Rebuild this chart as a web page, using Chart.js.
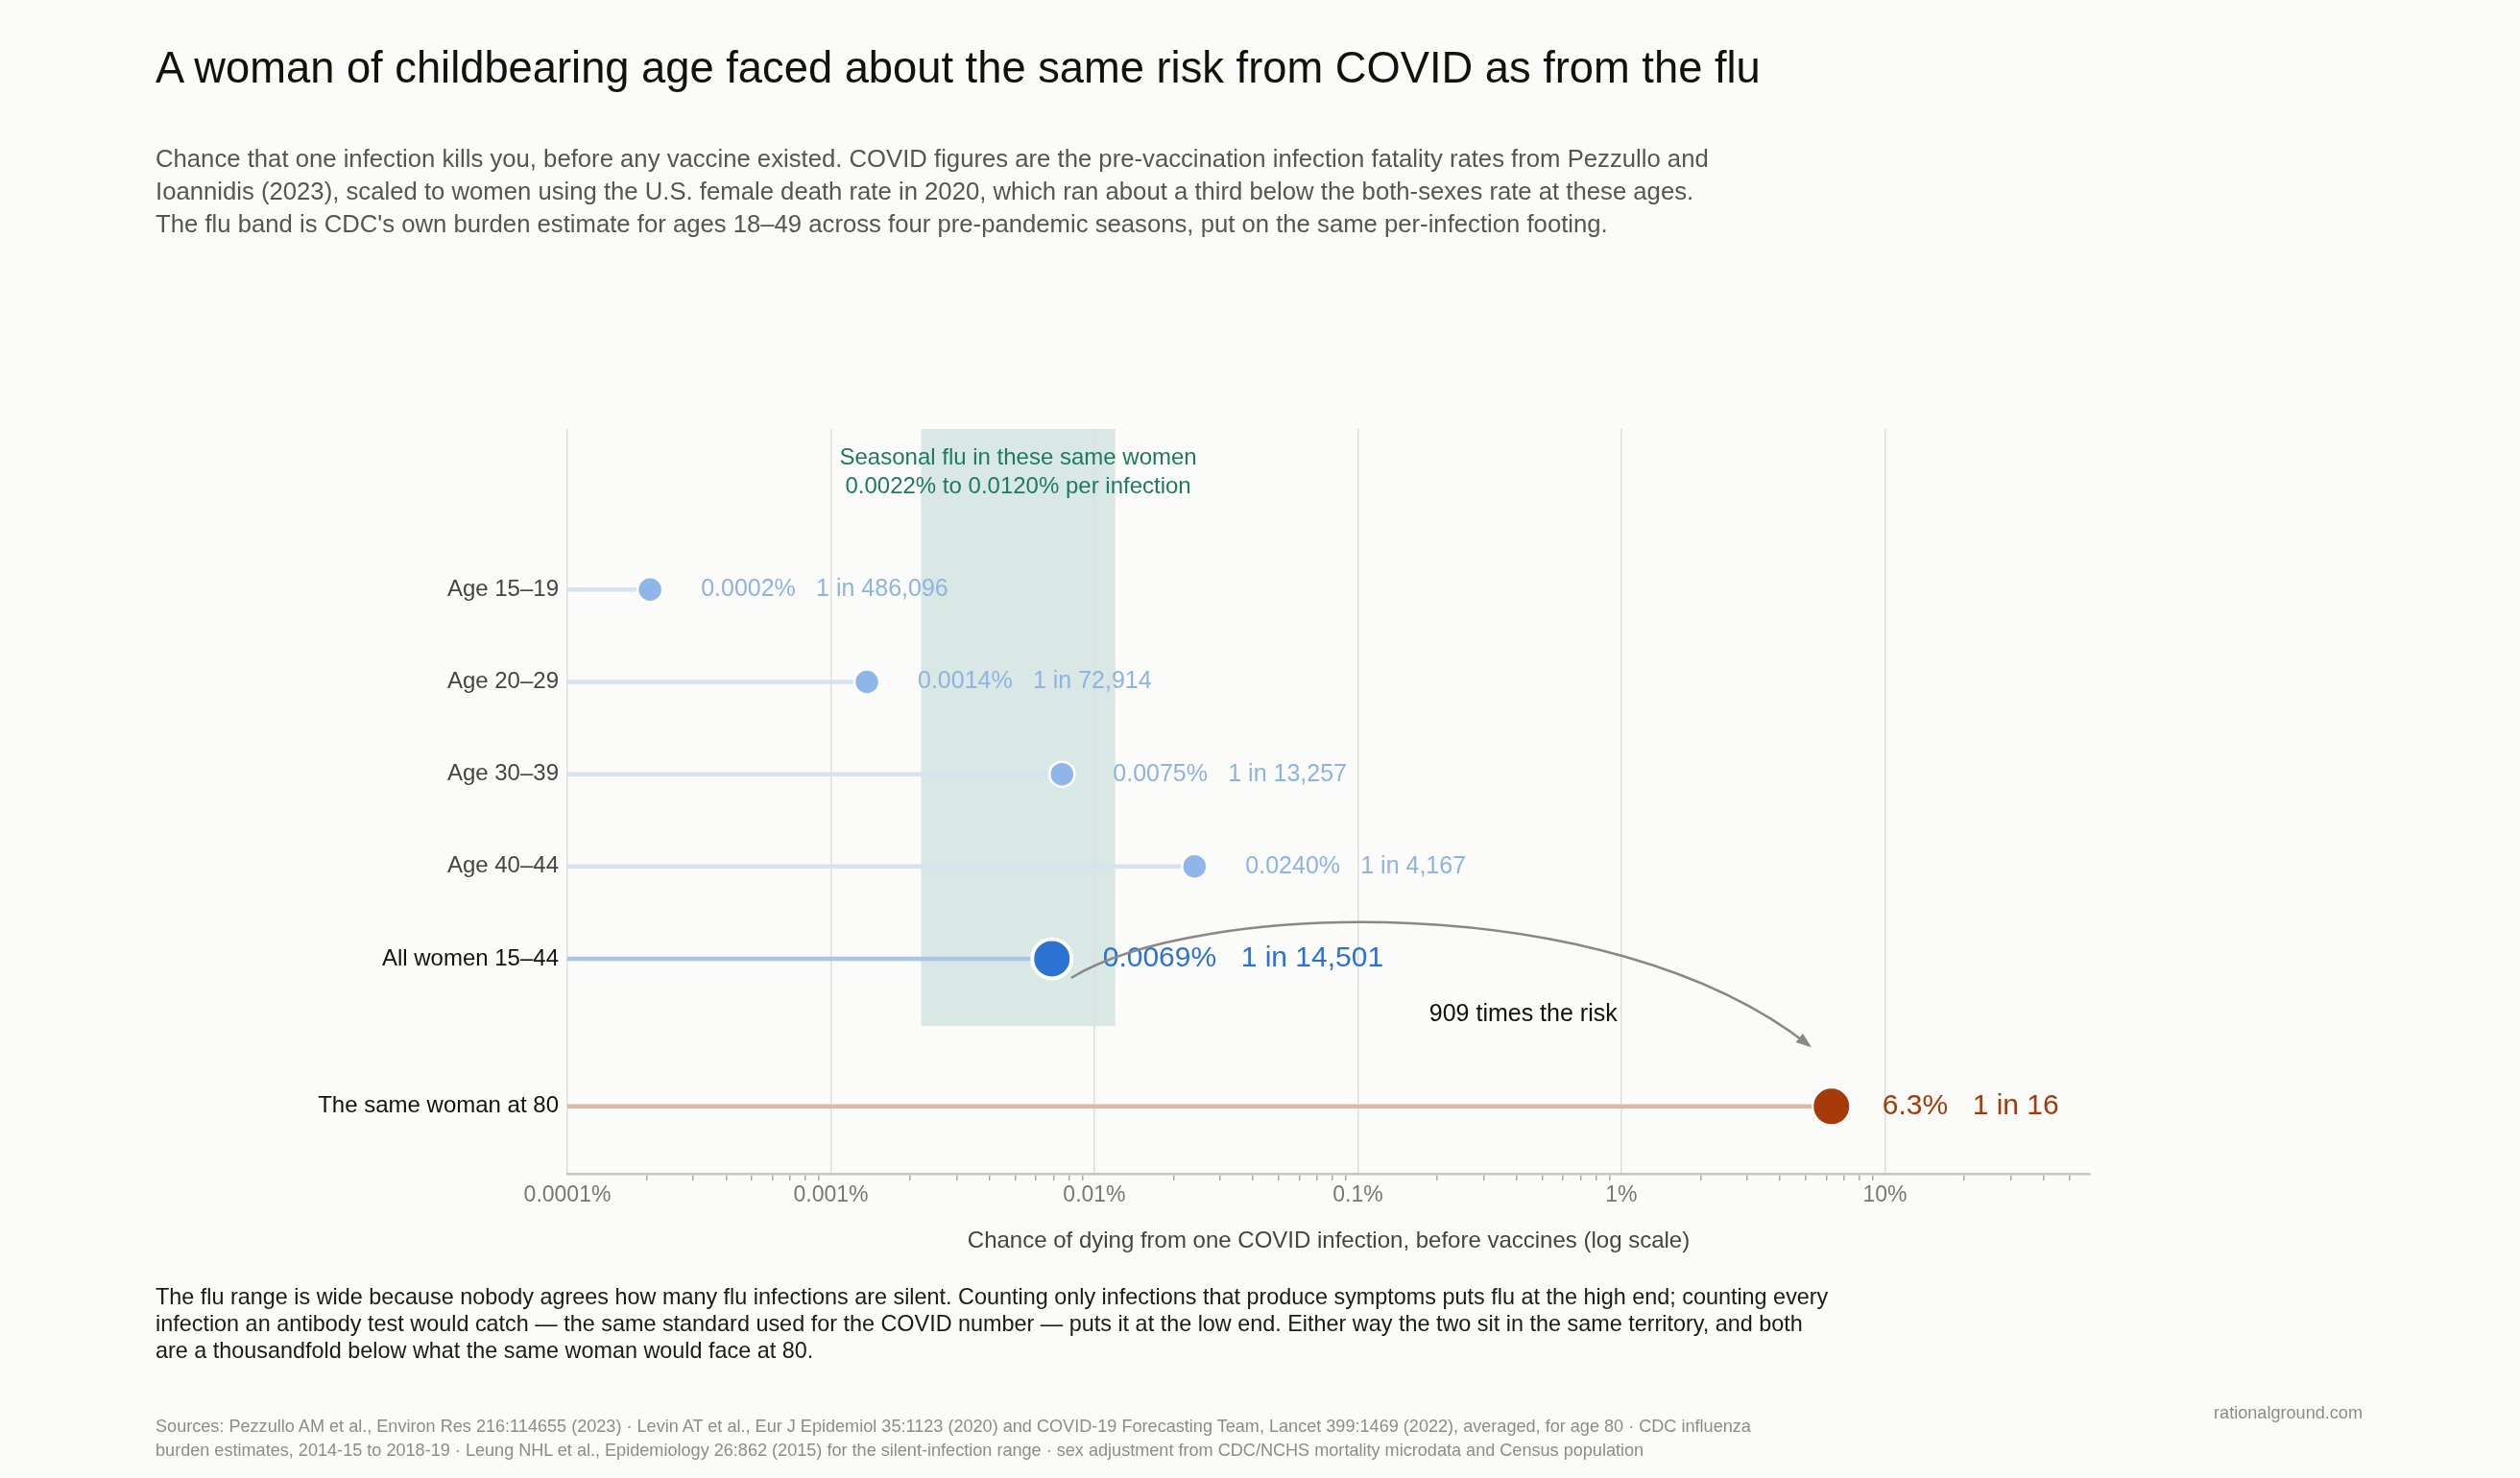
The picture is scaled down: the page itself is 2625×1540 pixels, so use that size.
<!DOCTYPE html>
<html>
<head>
<meta charset="utf-8">
<script src="https://cdn.jsdelivr.net/npm/chart.js@4.4.1/dist/chart.umd.min.js"></script>
<style>
  html, body { margin: 0; padding: 0; background: #fbfbf9; }
  body { width: 2625px; height: 1540px; position: relative; overflow: hidden;
         font-family: "Liberation Sans", Arial, Helvetica, sans-serif; }
  .txt { position: absolute; white-space: nowrap; }
  #title { left: 162px; top: 46px; font-size: 45.3px; line-height: 50px; color: #111; }
  #sub { left: 162px; top: 148px; font-size: 25.7px; line-height: 34px; color: #555; }
  #note { left: 162px; top: 1337px; font-size: 23.4px; line-height: 28px; color: #1a1a1a; }
  #src { left: 162px; top: 1474px; font-size: 18.1px; line-height: 25px; color: #8c8c8c; }
  #brand { right: 164px; top: 1460px; font-size: 18.1px; line-height: 25px; color: #8c8c8c; }
  #wrap { position: absolute; left: 0; top: 0; width: 2625px; height: 1540px; }
</style>
</head>
<body>
<div id="wrap"><canvas id="chartId" width="2625" height="1540"></canvas></div>

<div class="txt" id="title">A woman of childbearing age faced about the same risk from COVID as from the flu</div>
<div class="txt" id="sub">Chance that one infection kills you, before any vaccine existed. COVID figures are the pre-vaccination infection fatality rates from Pezzullo and<br>Ioannidis (2023), scaled to women using the U.S. female death rate in 2020, which ran about a third below the both-sexes rate at these ages.<br>The flu band is CDC's own burden estimate for ages 18–49 across four pre-pandemic seasons, put on the same per-infection footing.</div>
<div class="txt" id="note">The flu range is wide because nobody agrees how many flu infections are silent. Counting only infections that produce symptoms puts flu at the high end; counting every<br>infection an antibody test would catch — the same standard used for the COVID number — puts it at the low end. Either way the two sit in the same territory, and both<br>are a thousandfold below what the same woman would face at 80.</div>
<div class="txt" id="src">Sources: Pezzullo AM et al., Environ Res 216:114655 (2023) · Levin AT et al., Eur J Epidemiol 35:1123 (2020) and COVID-19 Forecasting Team, Lancet 399:1469 (2022), averaged, for age 80 · CDC influenza<br>burden estimates, 2014-15 to 2018-19 · Leung NHL et al., Epidemiology 26:862 (2015) for the silent-infection range · sex adjustment from CDC/NCHS mortality microdata and Census population</div>
<div class="txt" id="brand">rationalground.com</div>

<script>
// data
var rowLabels = ["Age 15–19", "Age 20–29", "Age 30–39", "Age 40–44", "All women 15–44", "The same woman at 80"];
var ifrPct = [0.000206, 0.00137, 0.00754, 0.0240, 0.00690, 6.27];
var pctText = ["0.0002%", "0.0014%", "0.0075%", "0.0240%", "0.0069%", "6.3%"];
var oneIn = [486096, 72914, 13257, 4167, 14501, 16];
var fluLow = 0.0022;
var fluHigh = 0.0120;
var xTickValues = [0.0001, 0.001, 0.01, 0.1, 1, 10];
var xTickLabels = ["0.0001%", "0.001%", "0.01%", "0.1%", "1%", "10%"];

var X_MIN = 0.0001, X_MAX = 60;
var FONT = '"Liberation Sans", Arial, Helvetica, sans-serif';

// row layout: last row sits after a bigger gap
function rowY(i) { return i < 5 ? i : 5.6; }
var BAND_BOTTOM = 4.73;

function rowStyle(i) {
    if (i === 5) return { dot: "#a63a08", stem: "#dfb8ac", text: "#a63a08", r: 19.5, bw: 2, fs: 30, label: "#111" };
    if (i === 4) return { dot: "#2a73d3", stem: "#a9c4e4", text: "#2a73d3", r: 20.5, bw: 4, fs: 30, label: "#111" };
    return { dot: "#8fb6e8", stem: "#d5e2ef", text: "#8fb3e0", r: 13, bw: 2.5, fs: 25, label: "#444" };
}

function isDecade(v) {
    var l = Math.log10(v);
    return Math.abs(l - Math.round(l)) < 1e-6;
}

var stems = rowLabels.map(function (lab, i) {
    return {
        type: "line",
        data: [{ x: X_MIN, y: rowY(i) }, { x: ifrPct[i], y: rowY(i) }],
        borderColor: rowStyle(i).stem,
        borderWidth: 4.5,
        pointRadius: 0,
        order: 2
    };
});

var dots = {
    type: "scatter",
    data: ifrPct.map(function (v, i) { return { x: v, y: rowY(i) }; }),
    pointRadius: function (c) { return rowStyle(c.dataIndex).r; },
    pointHoverRadius: function (c) { return rowStyle(c.dataIndex).r; },
    pointBackgroundColor: function (c) { return rowStyle(c.dataIndex).dot; },
    pointBorderColor: "#ffffff",
    pointBorderWidth: function (c) { return rowStyle(c.dataIndex).bw; },
    order: 1
};

var annot = {
    id: "annot",
    beforeDraw: function (chart) {
        var ctx = chart.ctx, x = chart.scales.x, y = chart.scales.y;
        var x0 = x.getPixelForValue(fluLow), x1 = x.getPixelForValue(fluHigh);
        var top = chart.chartArea.top, bot = y.getPixelForValue(BAND_BOTTOM);
        ctx.save();
        ctx.fillStyle = "#d9e8e4";
        ctx.fillRect(x0, top, x1 - x0, bot - top);
        ctx.restore();
    },
    afterDatasetsDraw: function (chart) {
        var ctx = chart.ctx, x = chart.scales.x, y = chart.scales.y;
        ctx.save();

        // band label
        var bx = (x.getPixelForValue(fluLow) + x.getPixelForValue(fluHigh)) / 2;
        ctx.fillStyle = "#1d7a60";
        ctx.font = "24px " + FONT;
        ctx.textAlign = "center";
        ctx.textBaseline = "middle";
        ctx.fillText("Seasonal flu in these same women", bx, chart.chartArea.top + 30);
        ctx.fillText(fluLow.toFixed(4) + "% to " + fluHigh.toFixed(4) + "% per infection", bx, chart.chartArea.top + 60);

        // value labels
        ctx.textAlign = "left";
        ifrPct.forEach(function (v, i) {
            var st = rowStyle(i);
            var px = x.getPixelForValue(v) + 53, py = y.getPixelForValue(rowY(i));
            ctx.font = st.fs + "px " + FONT;
            ctx.fillStyle = st.text;
            ctx.fillText(pctText[i], px, py);
            var w = ctx.measureText(pctText[i]).width;
            ctx.fillText("1 in " + oneIn[i].toLocaleString("en-US"), px + w + st.fs * 0.85, py);
        });

        // arrow from all women to age 80
        var ax = x.getPixelForValue(ifrPct[4]), ay = y.getPixelForValue(rowY(4));
        var ex = x.getPixelForValue(ifrPct[5]), ey = y.getPixelForValue(rowY(5));
        var p0 = [ax + 20, ay + 20], p3 = [ex - 24, ey - 64];
        var p1 = [p0[0] + 130, p0[1] - 80], p2 = [p3[0] - 210, p3[1] - 165];
        ctx.strokeStyle = "#888";
        ctx.lineWidth = 2.5;
        ctx.beginPath();
        ctx.moveTo(p0[0], p0[1]);
        ctx.bezierCurveTo(p1[0], p1[1], p2[0], p2[1], p3[0], p3[1]);
        ctx.stroke();
        var ang = Math.atan2(p3[1] - p2[1], p3[0] - p2[0]);
        ctx.fillStyle = "#888";
        ctx.beginPath();
        ctx.moveTo(p3[0] + 4 * Math.cos(ang), p3[1] + 4 * Math.sin(ang));
        ctx.lineTo(p3[0] - 12 * Math.cos(ang) + 6 * Math.sin(ang), p3[1] - 12 * Math.sin(ang) - 6 * Math.cos(ang));
        ctx.lineTo(p3[0] - 12 * Math.cos(ang) - 6 * Math.sin(ang), p3[1] - 12 * Math.sin(ang) + 6 * Math.cos(ang));
        ctx.closePath();
        ctx.fill();

        ctx.fillStyle = "#111";
        ctx.font = "25px " + FONT;
        ctx.textAlign = "center";
        ctx.fillText(Math.round(ifrPct[5] / ifrPct[4]) + " times the risk", (p0[0] + p3[0]) / 2 + 87, (p0[1] + p3[1]) / 2 + 3);
        ctx.restore();
    }
};

Chart.defaults.font.family = FONT;

var chrt = document.getElementById("chartId").getContext("2d");
var chartId = new Chart(chrt, {
    type: "scatter",
    data: { datasets: [dots].concat(stems) },
    plugins: [annot],
    options: {
        responsive: false,
        animation: false,
        events: [],
        layout: { padding: { left: 0, right: 448, top: 447, bottom: 222 } },
        plugins: { legend: { display: false }, tooltip: { enabled: false } },
        scales: {
            x: {
                type: "logarithmic",
                position: "bottom",
                min: X_MIN,
                max: X_MAX,
                afterBuildTicks: function (s) {
                    var t = [];
                    for (var e = -4; e <= 1; e++) {
                        for (var m = 1; m <= 9; m++) {
                            var v = Number((m * Math.pow(10, e)).toPrecision(6));
                            if (v <= 50) t.push({ value: v });
                        }
                    }
                    s.ticks = t;
                },
                afterFit: function (s) { s.height = 95; },
                grid: {
                    color: function (c) { return c.tick && isDecade(c.tick.value) ? "#dedede" : "rgba(0,0,0,0)"; },
                    lineWidth: 1.5,
                    tickColor: function (c) { return c.tick && isDecade(c.tick.value) ? "rgba(0,0,0,0)" : "#aaa"; },
                    tickLength: 7,
                    tickWidth: 1.5
                },
                border: { display: true, color: "#c4c4c4", width: 2.5 },
                ticks: {
                    autoSkip: false,
                    maxRotation: 0,
                    padding: 2,
                    color: "#777",
                    font: { size: 23 },
                    callback: function (v) {
                        var k = xTickValues.findIndex(function (t) { return Math.abs(t - v) / t < 1e-6; });
                        return k >= 0 ? xTickLabels[k] : "";
                    }
                },
                title: {
                    display: true,
                    text: "Chance of dying from one COVID infection, before vaccines (log scale)",
                    color: "#444",
                    font: { size: 24 },
                    padding: { top: 0, bottom: 10 }
                }
            },
            y: {
                type: "linear",
                reverse: true,
                min: -1.74,
                max: 6.33,
                afterBuildTicks: function (s) {
                    s.ticks = rowLabels.map(function (l, i) { return { value: rowY(i) }; });
                },
                afterFit: function (s) { s.width = 591; },
                grid: { display: false, drawTicks: false },
                border: { display: false },
                ticks: {
                    autoSkip: false,
                    padding: 9,
                    font: { size: 24 },
                    color: function (c) { return rowStyle(c.index).label; },
                    callback: function (v, i) { return rowLabels[i]; }
                }
            }
        }
    }
});
</script>
</body>
</html>
